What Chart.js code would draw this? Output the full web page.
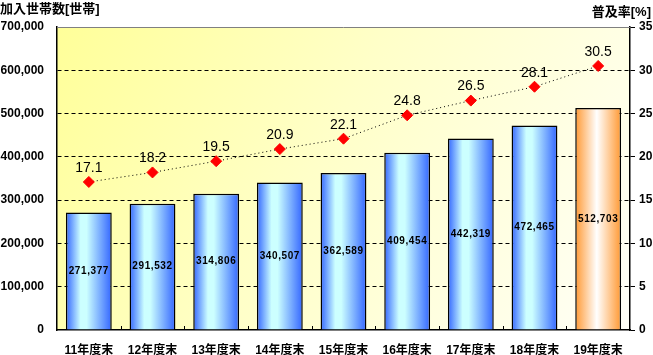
<!DOCTYPE html>
<html><head><meta charset="utf-8">
<script src="https://cdn.jsdelivr.net/npm/chart.js@4.4.1/dist/chart.umd.min.js"></script>
<style>
html,body{margin:0;padding:0;background:#fff;}
#wrap{position:relative;width:653px;height:355px;}
canvas{position:absolute;left:0;top:0;}
.ttl{position:absolute;font-family:"Liberation Sans","Noto Sans CJK JP",sans-serif;font-weight:bold;font-size:13px;color:#000;white-space:nowrap;line-height:15px;}
</style></head>
<body><div id="wrap"><canvas id="c" width="653" height="355"></canvas>
<div class="ttl" style="left:0;top:1px;">加入世帯数[世帯]</div>
<div class="ttl" style="right:2px;top:4px;">普及率[%]</div></div>
<script>
const categories = ["11年度末","12年度末","13年度末","14年度末","15年度末","16年度末","17年度末","18年度末","19年度末"];
const households = [271377,291532,314806,340507,362589,409454,442319,472465,512703];
const penetration = [17.1,18.2,19.5,20.9,22.1,24.8,26.5,28.1,30.5];
const leftTicks = [0,100000,200000,300000,400000,500000,600000,700000];
const rightTicks = [0,5,10,15,20,25,30,35];

const FONT = '"Liberation Sans", "Noto Sans CJK JP", sans-serif';
const fmt = v => v.toLocaleString('en-US');
const BAR_PCT = 0.72;

function barFill(c){
  const chart = c.chart, x = chart.scales.x;
  const last = c.dataIndex === categories.length-1;
  if(!x || !chart.chartArea || c.dataIndex===undefined) return last?'#FF9933':'#3366FF';
  const cx = x.getPixelForValue(c.dataIndex);
  const w = (x.width/categories.length)*BAR_PCT;
  const g = chart.ctx.createLinearGradient(cx-w/2,0,cx+w/2,0);
  if(last){
    g.addColorStop(0,'#FF9933'); g.addColorStop(0.47,'#FFFFFF'); g.addColorStop(1,'#FF9933');
  } else {
    g.addColorStop(0,'#3366FF'); g.addColorStop(0.32,'#CCFFFF'); g.addColorStop(0.45,'#CCFFFF'); g.addColorStop(1,'#3366FF');
  }
  return g;
}

const decor = {
  id:'decor',
  beforeDraw(chart){
    const {ctx, chartArea:a} = chart;
    const g = ctx.createLinearGradient(a.left, a.top, a.right, a.bottom);
    g.addColorStop(0,'#FFFF99');
    g.addColorStop(0.45,'#FFFFC8');
    g.addColorStop(1,'#FFFFF8');
    ctx.save(); ctx.fillStyle=g; ctx.fillRect(a.left,a.top,a.right-a.left,a.bottom-a.top); ctx.restore();
  },
  beforeDatasetsDraw(chart){
    const {ctx} = chart;
    const a = chart.chartArea;
    ctx.save();
    ctx.strokeStyle='#808080'; ctx.lineWidth=1;
    ctx.beginPath(); ctx.moveTo(a.left,a.top+0.5); ctx.lineTo(a.right,a.top+0.5); ctx.stroke();
    ctx.strokeStyle='#000';
    const step = (a.right-a.left)/categories.length;
    for(let i=1;i<categories.length;i++){
      const px = Math.round(a.left+step*i)+0.5;
      ctx.beginPath(); ctx.moveTo(px,a.bottom); ctx.lineTo(px,a.bottom-4); ctx.stroke();
    }
    ctx.restore();
  },
  afterDatasetsDraw(chart){
    const {ctx} = chart;
    ctx.save();
    ctx.fillStyle='#000'; ctx.textAlign='center'; ctx.textBaseline='middle';
    ctx.font = 'bold 10px '+FONT;
    try{ ctx.letterSpacing='0.6px'; }catch(e){}
    chart.getDatasetMeta(1).data.forEach((bar,i)=>{
      ctx.fillText(fmt(households[i]), bar.x, (bar.y+bar.base)/2);
    });
    try{ ctx.letterSpacing='0px'; }catch(e){}
    ctx.font = '14px '+FONT;
    chart.getDatasetMeta(0).data.forEach((pt,i)=>{
      ctx.fillText(penetration[i].toFixed(1), pt.x, pt.y-14);
    });
    ctx.restore();
  }
};

new Chart(document.getElementById('c'),{
  data:{
    labels:categories,
    datasets:[
      {type:'line',label:'普及率',data:penetration,yAxisID:'y1',order:0,
       borderColor:'#000',borderWidth:1,borderDash:[1,3],fill:false,tension:0,
       pointStyle:'rectRot',pointRadius:5.5,pointBackgroundColor:'#FF0000',pointBorderColor:'#FF0000',pointBorderWidth:1},
      {type:'bar',label:'加入世帯数',data:households,yAxisID:'y',order:1,
       backgroundColor:barFill,borderColor:'#000',borderWidth:1.5,
       categoryPercentage:1,barPercentage:BAR_PCT}
    ]
  },
  options:{
    responsive:false,animation:false,
    layout:{padding:{top:27,left:0,right:0,bottom:0}},
    plugins:{legend:{display:false},tooltip:{enabled:false}},
    scales:{
      x:{offset:true,
         grid:{display:false},
         border:{display:true,color:'#000',width:1.5},
         ticks:{font:{family:FONT,size:12,weight:'bold'},color:'#000',padding:5,maxRotation:0},
         afterFit(s){s.height=25;}},
      y:{position:'left',min:0,max:700000,
         afterBuildTicks(s){s.ticks=leftTicks.map(v=>({value:v}));},
         grid:{color:c=>(c.tick&&(c.tick.value===0||c.tick.value===700000))?'rgba(0,0,0,0)':'#000',lineWidth:1,drawTicks:false},
         border:{display:true,color:'#000',width:1.5,dash:[4,3]},
         ticks:{font:{family:FONT,size:12,weight:'bold'},color:'#000',padding:13,callback:v=>fmt(v)},
         afterFit(s){s.width=57;}},
      y1:{position:'right',min:0,max:35,
         afterBuildTicks(s){s.ticks=rightTicks.map(v=>({value:v}));},
         grid:{drawOnChartArea:false,color:'#000',tickLength:5},
         border:{display:true,color:'#000',width:1.5},
         ticks:{font:{family:FONT,size:12,weight:'bold'},color:'#000',padding:4},
         afterFit(s){s.width=23;}}
    }
  },
  plugins:[decor]
});
</script></body></html>
